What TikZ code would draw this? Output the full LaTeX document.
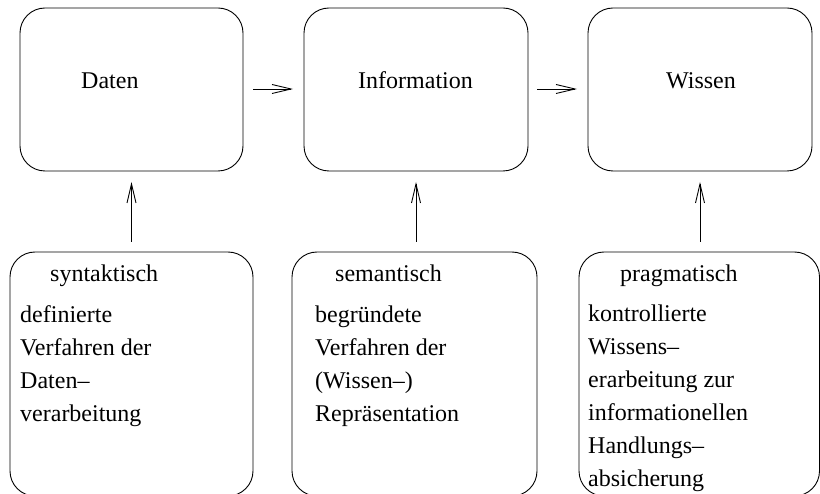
\documentclass[tikz,border=0pt]{standalone}
\usepackage{fontspec}
\setmainfont{Liberation Serif}
\newfontfamily\refserif{Liberation Serif}
\usetikzlibrary{arrows.meta}
\tikzset{
  box/.style={draw, rounded corners=25pt, line width=0.9pt, inner sep=0pt, outer sep=0pt},
  lbl/.style={anchor=base west, inner sep=0pt, font=\refserif\fontsize{24}{33}\selectfont},
  conn/.style={-{Straight Barb[length=19pt,width=9pt]}, line width=0.9pt},
}
\newcommand{\boxlines}[1]{\vtop{\baselineskip=33pt\lineskiplimit=-100pt #1}}
\begin{document}
\begin{tikzpicture}[x=1pt,y=-1pt]
\useasboundingbox (0,0) rectangle (820,494);
% top boxes
\node[box, minimum width=223pt, minimum height=163pt] (t1) at (131.5,89.5) {};
\node[box, minimum width=224pt, minimum height=163pt] (t2) at (416,89.5) {};
\node[box, minimum width=224pt, minimum height=163pt] (t3) at (700,89.5) {};
% bottom boxes (bottom edge lies just below the picture)
\node[box, minimum width=243pt, minimum height=244pt] (b1) at (131.5,374) {};
\node[box, minimum width=245pt, minimum height=244pt] (b2) at (414.5,374) {};
\node[box, minimum width=240.5pt, minimum height=244pt] (b3) at (699.25,374) {};
% top labels
\node[lbl] (l1) at (81,89) {Daten};
\node[lbl] (l2) at (358,89) {Information};
\node[lbl] (l3) at (666,89) {Wissen};
% bottom titles
\node[lbl] (s1) at (50,282) {syntaktisch};
\node[lbl] (s2) at (335,282) {semantisch};
\node[lbl] (s3) at (620,282) {pragmatisch};
% bottom texts
\node[lbl] (d1) at (20,323) {\boxlines{\hbox{definierte}\hbox{Verfahren der}\hbox{Daten–}\hbox{verarbeitung}}};
\node[lbl] (d2) at (315,323) {\boxlines{\hbox{begründete}\hbox{Verfahren der}\hbox{(Wissen–)}\hbox{Repräsentation}}};
\node[lbl] (d3) at (588,322) {\boxlines{\hbox{kontrollierte}\hbox{Wissens–}\hbox{erarbeitung zur}\hbox{informationellen}\hbox{Handlungs–}\hbox{absicherung}}};
% connectors
\draw[conn, shorten <=10pt, shorten >=11pt] (t1.east |- 0,89) -- (t2.west |- 0,89);
\draw[conn, shorten <=9pt, shorten >=11pt] (t2.east |- 0,89) -- (t3.west |- 0,89);
\draw[conn, shorten <=10pt, shorten >=11pt] (b1.north) -- (b1.north |- t1.south);
\draw[conn, shorten <=10pt, shorten >=11pt] (t2.south |- b2.north) -- (t2.south);
\draw[conn, shorten <=10pt, shorten >=11pt] (t3.south |- b3.north) -- (t3.south);
\end{tikzpicture}
\end{document}
